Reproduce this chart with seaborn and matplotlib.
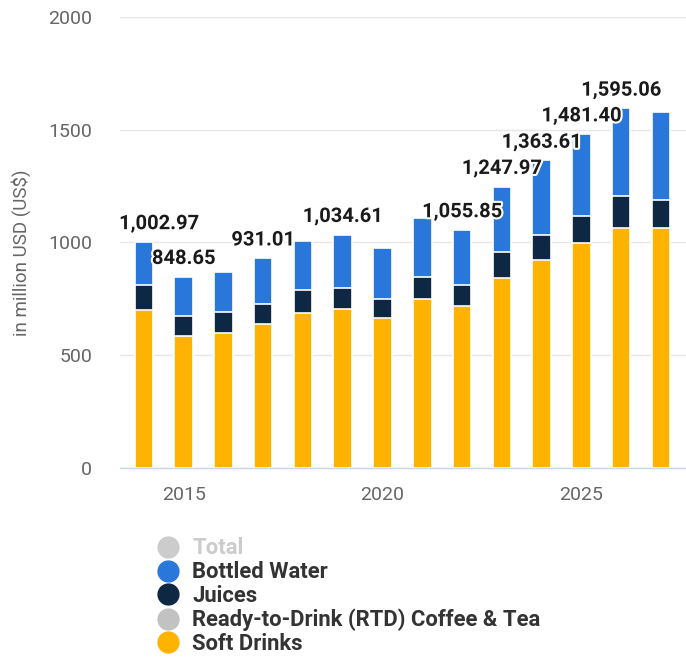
import matplotlib
matplotlib.use("Agg")
import matplotlib.pyplot as plt
import matplotlib.patheffects as pe
from matplotlib.lines import Line2D
import numpy as np
import pandas as pd
import seaborn as sns

# ---- data ----
years = [2014, 2015, 2016, 2017, 2018, 2019, 2020, 2021, 2022, 2023, 2024, 2025, 2026, 2027]
soft_drinks = [700, 585, 600, 637, 689, 705, 667, 751, 720, 843, 922, 999, 1065, 1065]
juices = [112, 89, 90, 89, 100, 92, 84, 97, 92, 114, 111, 120, 140, 125]
bottled_water = [191, 175, 179, 205, 218, 238, 226, 259, 244, 291, 331, 362, 390, 387]

label_years = [2014, 2015, 2017, 2019, 2022, 2023, 2024, 2025, 2026]
label_totals = [1002.97, 848.65, 931.01, 1034.61, 1055.85, 1247.97, 1363.61, 1481.40, 1595.06]

legend_labels = ["Total", "Bottled Water", "Juices", "Ready-to-Drink (RTD) Coffee & Tea", "Soft Drinks"]
y_ticks = [0, 500, 1000, 1500, 2000]
x_ticks = [2015, 2020, 2025]

# ---- styles ----
C_WATER = "#2a77dc"
C_JUICE = "#0e2742"
C_RTD = "#c2c2c2"
C_SOFT = "#fdb300"
C_TOTAL = "#cccccc"
legend_colors = [C_TOTAL, C_WATER, C_JUICE, C_RTD, C_SOFT]
label_dx = {2014: 11}

sns.set_style("white")
plt.rcParams["font.family"] = ["Roboto", "DejaVu Sans"]

df = pd.DataFrame({"year": years, "soft": soft_drinks, "juice": juices, "water": bottled_water})
df["cum_juice"] = df["soft"] + df["juice"]
df["cum_water"] = df["cum_juice"] + df["water"]

fig = plt.figure(figsize=(6.86, 6.57), dpi=100)
ax = fig.add_axes([0.1749, 0.2877, 0.8251, 0.6865])

common = dict(native_scale=True, width=0.465, saturation=1, errorbar=None,
              edgecolor="white", linewidth=1.2, ax=ax)
sns.barplot(data=df, x="year", y="cum_water", color=C_WATER, **common)
sns.barplot(data=df, x="year", y="cum_juice", color=C_JUICE, **common)
sns.barplot(data=df, x="year", y="soft", color=C_SOFT, **common)

ax.set_ylim(0, 2000)
ax.set_xlim(2013.4, 2027.63)
ax.set_yticks(y_ticks)
ax.set_yticklabels([str(v) for v in y_ticks])
ax.set_xticks(x_ticks)
ax.set_xticklabels([str(v) for v in x_ticks])

ax.grid(axis="y", color="#e6e6e6", linewidth=1)
ax.set_axisbelow(True)
for s in ["top", "right", "left"]:
    ax.spines[s].set_visible(False)
ax.spines["bottom"].set_color("#ccd6eb")
ax.spines["bottom"].set_linewidth(1)
ax.tick_params(axis="y", length=0, pad=20, labelsize=14, labelcolor="#666666")
ax.tick_params(axis="x", length=10, width=1, color="#ccd6eb", pad=3, labelsize=14, labelcolor="#666666")

ax.set_xlabel("")
ax.set_ylabel("in million USD (US$)", fontsize=13.5, color="#666666")
ax.yaxis.set_label_coords(-0.158, 0.477)

# total labels
top_by_year = dict(zip(df["year"], df["cum_water"]))
for yr, tot in zip(label_years, label_totals):
    ax.annotate(f"{tot:,.2f}", xy=(yr, top_by_year[yr]), xytext=(label_dx.get(yr, 0), 13),
                textcoords="offset points", ha="center", va="center",
                fontsize=14.5, fontweight="bold", color="#1a1a1a",
                path_effects=[pe.withStroke(linewidth=3, foreground="white")])

handles = [Line2D([], [], marker="o", linestyle="", markersize=15,
                  markerfacecolor=c, markeredgecolor=c) for c in legend_colors]
leg = fig.legend(handles, legend_labels, loc="upper left", bbox_to_anchor=(0.229, 0.182),
                 frameon=False, borderpad=0, borderaxespad=0, handletextpad=0.6,
                 labelspacing=0.08, handlelength=1.0,
                 prop={"family": ["Roboto", "DejaVu Sans"], "weight": "bold", "size": 15.8})
for t, lab in zip(leg.get_texts(), legend_labels):
    t.set_color("#cccccc" if lab == "Total" else "#333333")

fig.savefig("out.png", dpi=100)
